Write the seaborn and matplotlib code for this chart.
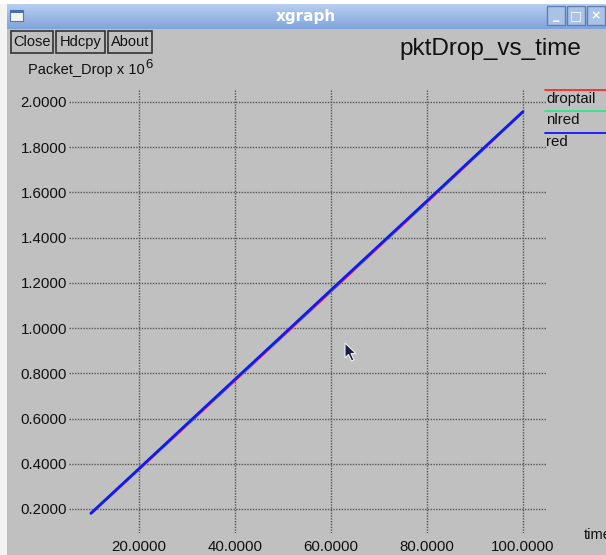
import numpy as np
import pandas as pd
import seaborn as sns
import matplotlib
matplotlib.use("Agg")
import matplotlib.pyplot as plt
from matplotlib import font_manager
from matplotlib.patches import Rectangle, Polygon
from matplotlib.lines import Line2D

# ---- data (packet drops, in units of 10^6) ----
time_s = [10, 20, 30, 40, 50, 60, 70, 80, 90, 100]
droptail = [0.181, 0.376, 0.572, 0.769, 0.966, 1.163, 1.361, 1.558, 1.757, 1.957]
nlred = [0.181, 0.378, 0.576, 0.773, 0.970, 1.168, 1.365, 1.562, 1.760, 1.957]
red = [0.181, 0.378, 0.576, 0.773, 0.970, 1.168, 1.365, 1.562, 1.760, 1.957]
series_names = ["droptail", "nlred", "red"]
series_colors = ["#ff2a2a", "#2ee68a", "#1414ff"]
x_ticks = [20, 40, 60, 80, 100]
y_ticks = [0.2, 0.4, 0.6, 0.8, 1.0, 1.2, 1.4, 1.6, 1.8, 2.0]
title = "pktDrop_vs_time"
y_label = "Packet_Drop x 10"
y_exp = "6"
x_label = "time"
buttons = ["Close", "Hdcpy", "About"]

W, H = 606, 555
BG = "#c0c0c0"

sns.set_theme(style="white")
names = {f.name for f in font_manager.fontManager.ttflist}
NARROW = "Liberation Sans Narrow" if "Liberation Sans Narrow" in names else "Liberation Sans"
FONT = [NARROW, "Liberation Sans", "DejaVu Sans"]
plt.rcParams["font.family"] = ["Liberation Sans", "DejaVu Sans"]

fig = plt.figure(figsize=(W / 100, H / 100), dpi=100, facecolor=BG)


def fx(x):
    return x / W


def fy(y):
    return 1 - y / H


# window frame: white left edge and top strip
fig.patches.append(Rectangle((0, 0), fx(7), 1, transform=fig.transFigure,
                             facecolor="#f4f4f4", edgecolor="none", zorder=0))
fig.patches.append(Rectangle((0, fy(4)), 1, 4 / H, transform=fig.transFigure,
                             facecolor="#ffffff", edgecolor="none", zorder=0))

# title bar with vertical gradient
tb = fig.add_axes([fx(6), fy(29), 1 - fx(6), 25 / H])
grad = np.linspace(0, 1, 64).reshape(-1, 1)
top = np.array([0.72, 0.81, 0.94])
bot = np.array([0.50, 0.64, 0.86])
img = top[None, None, :] * (1 - grad[:, :, None]) + bot[None, None, :] * grad[:, :, None]
tb.imshow(img, aspect="auto", extent=[0, 1, 0, 1])
tb.set_axis_off()
tb.text(0.5, 0.5, "xgraph", color="white", fontsize=11, fontweight="bold",
        ha="center", va="center", transform=tb.transAxes,
        family=["DejaVu Sans"])

# window icon
fig.patches.append(Rectangle((fx(10), fy(21)), 13 / W, 11 / H, transform=fig.transFigure,
                             facecolor="#f4f4ee", edgecolor="#5577aa", lw=0.8, zorder=5))
fig.patches.append(Rectangle((fx(10), fy(13)), 13 / W, 3 / H, transform=fig.transFigure,
                             facecolor="#4a6fb0", edgecolor="none", zorder=6))

# title bar buttons (minimize / maximize / close)
for i, glyph in enumerate(["_", "□", "×"]):
    x0 = 547 + i * 20
    fig.patches.append(Rectangle((fx(x0), fy(25)), 18 / W, 19 / H, transform=fig.transFigure,
                                 facecolor="#a9c2e6", edgecolor="#5f7fb3", lw=1, zorder=5))
    fig.text(fx(x0 + 9), fy(15.5), glyph, color="white", fontsize=9, fontweight="bold",
             ha="center", va="center", family=["DejaVu Sans"], zorder=6)

# xgraph command buttons
bx = [11, 56, 108]
bw = [42, 49, 44]
for b, x0, w in zip(buttons, bx, bw):
    fig.patches.append(Rectangle((fx(x0), fy(53)), w / W, 22 / H, transform=fig.transFigure,
                                 facecolor=BG, edgecolor="#333333", lw=1.2, zorder=5))
    fig.text(fx(x0 + w / 2), fy(42), b, fontsize=10.5, ha="center", va="center",
             family=FONT, color="#111111", zorder=6)

# title
fig.text(fx(490), fy(49), title, fontsize=17.5, ha="center", va="center",
         color="#111111", family=["Liberation Sans"])

# y axis caption with exponent
cap = fig.text(fx(28), fy(70), y_label, fontsize=10.5, ha="left", va="center",
               color="#111111", family=FONT)
fig.canvas.draw()
ext = cap.get_window_extent(renderer=fig.canvas.get_renderer())
fig.text(ext.x1 / W + 0.5 / W, fy(65), y_exp, fontsize=9.5, ha="left", va="center",
         color="#111111", family=FONT)

# ---- plot area ----
ax = fig.add_axes([fx(69), fy(533), (546 - 69) / W, (533 - 90) / H])
ax.set_facecolor(BG)
for s in ax.spines.values():
    s.set_visible(False)
ax.set_xlim(5.42, 104.8)
ax.set_ylim(0.0938, 2.053)

for yv in y_ticks:
    ax.axhline(yv, color="#555555", lw=1.0, ls=(0, (1, 1)), zorder=1)
for xv in x_ticks:
    ax.axvline(xv, color="#555555", lw=1.0, ls=(0, (1, 1)), zorder=1)

df = pd.DataFrame({
    "time": time_s * 3,
    "drop": droptail + nlred + red,
    "series": sum([[n] * len(time_s) for n in series_names], []),
})
sns.lineplot(data=df, x="time", y="drop", hue="series", hue_order=series_names,
             palette=dict(zip(series_names, series_colors)), linewidth=2.0,
             legend=False, ax=ax, zorder=3)
ax.set_xlabel("")
ax.set_ylabel("")

ax.set_xticks(x_ticks)
ax.set_xticklabels([f"{v:.4f}" for v in x_ticks])
ax.set_yticks(y_ticks)
ax.set_yticklabels([f"{v:.4f}" for v in y_ticks])
ax.tick_params(axis="both", length=0, labelsize=10.8, colors="#111111")
ax.tick_params(axis="x", pad=5)
ax.tick_params(axis="y", pad=1.5)
for lab in ax.get_xticklabels() + ax.get_yticklabels():
    lab.set_family(FONT)

# x axis caption (runs off the right edge)
fig.text(fx(584), fy(535), x_label, fontsize=10.5, ha="left", va="center",
         color="#111111", family=FONT)

# legend: colored line above each series name
for i, (n, c) in enumerate(zip(series_names, series_colors)):
    ly = 90 + i * 21.5
    fig.lines.append(Line2D([fx(545), 1.0], [fy(ly), fy(ly)], transform=fig.transFigure,
                            color=c, lw=1.3, zorder=5))
    fig.text(fx(546), fy(ly + 9), n, fontsize=10.8, ha="left", va="center",
             color="#111111", family=FONT)

# mouse pointer
ptr = [(345, 343), (345, 358), (348.5, 354.5), (351.5, 361), (354, 360),
       (351, 353.5), (356, 353.5)]
fig.patches.append(Polygon([(fx(x), fy(y)) for x, y in ptr], closed=True,
                           transform=fig.transFigure, facecolor="#1a1f4a",
                           edgecolor="#f0f0f0", lw=0.8, zorder=10))

fig.savefig("out.png", dpi=100, facecolor=BG)
